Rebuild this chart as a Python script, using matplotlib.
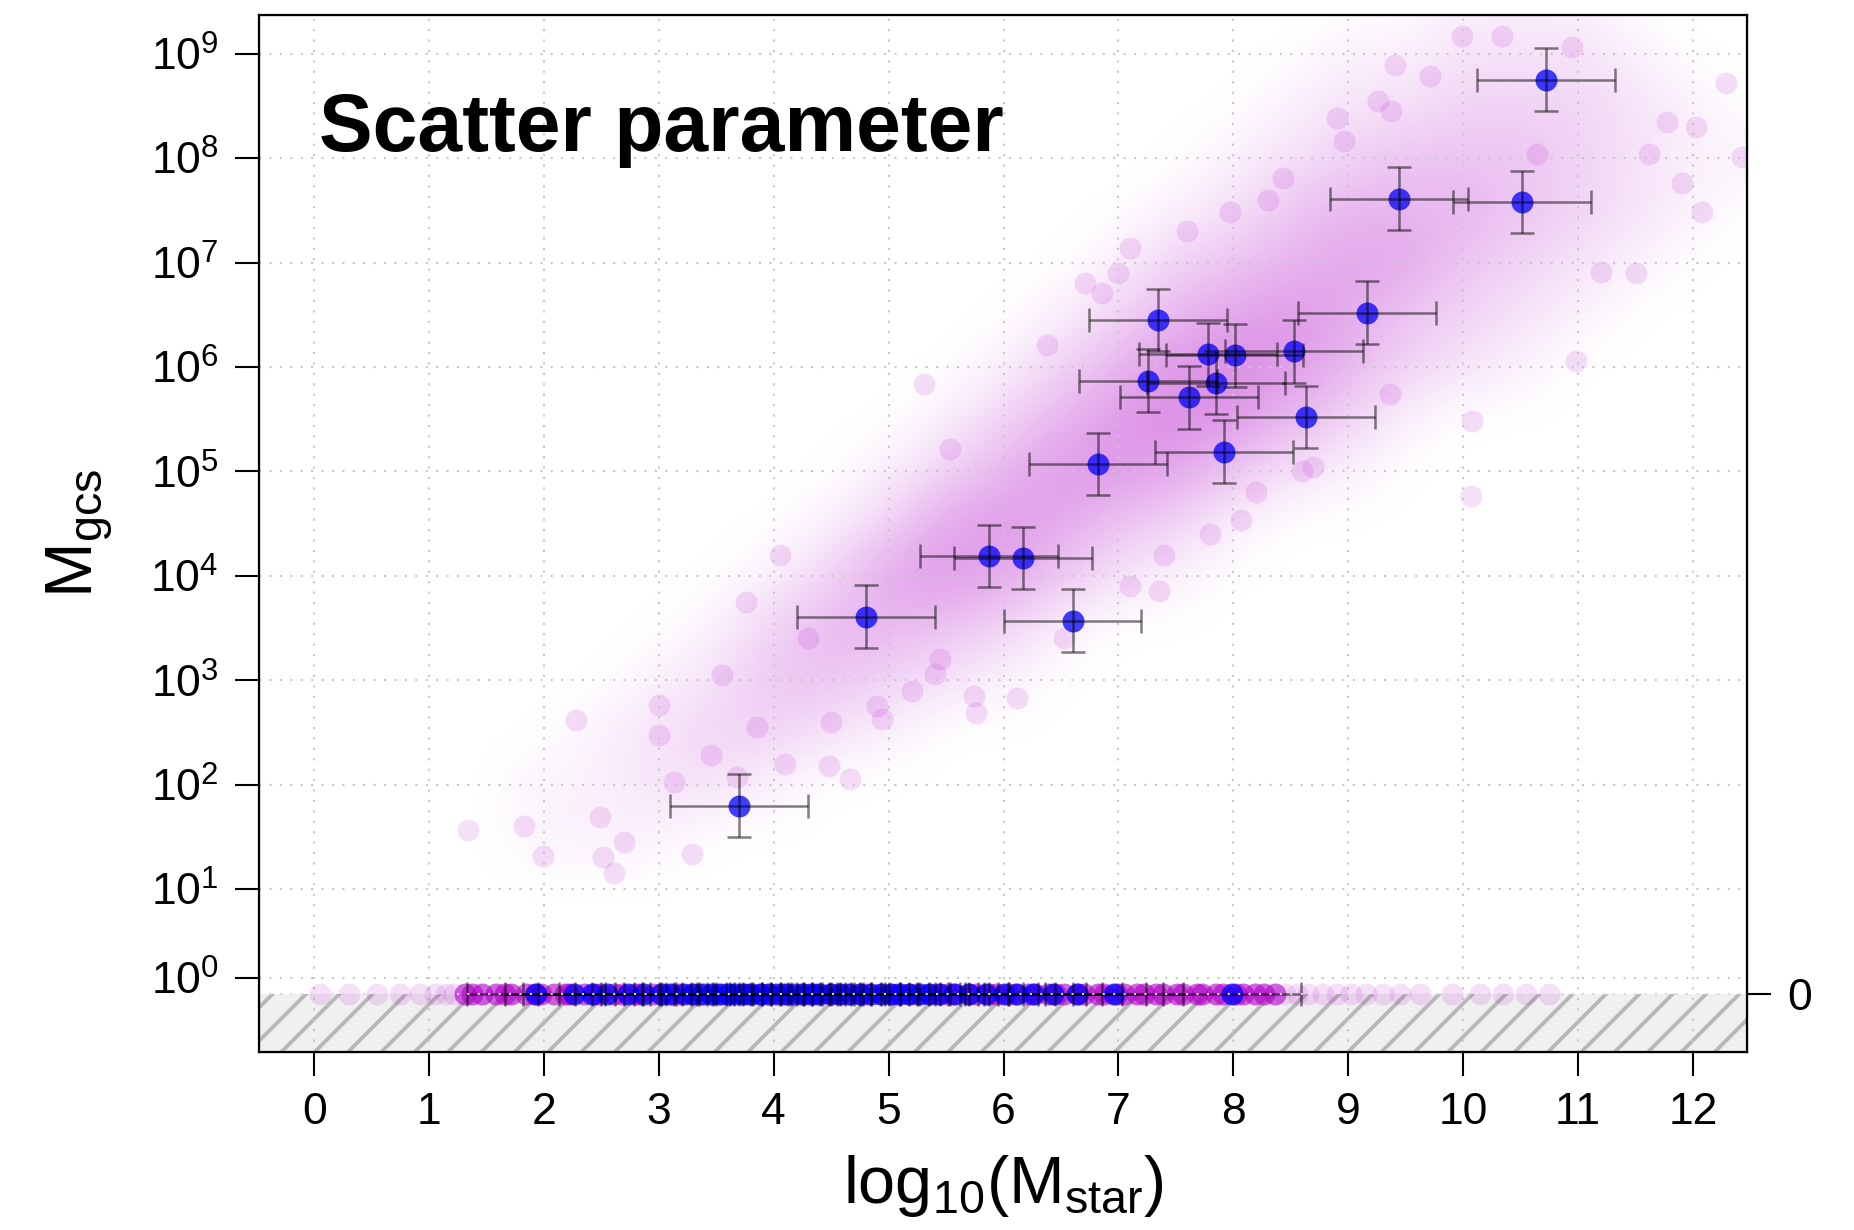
import numpy as np
import matplotlib
matplotlib.use("Agg")
import matplotlib.pyplot as plt
from matplotlib.patches import Rectangle

plt.rcParams['font.family'] = ['Liberation Sans', 'DejaVu Sans']
plt.rcParams['mathtext.fontset'] = 'custom'
plt.rcParams['mathtext.rm'] = 'Liberation Sans'
plt.rcParams['mathtext.it'] = 'Liberation Sans:italic'
plt.rcParams['mathtext.bf'] = 'Liberation Sans:bold'
plt.rcParams['hatch.color'] = '#b8b8b8'
plt.rcParams['hatch.linewidth'] = 2.8

# galaxies with detected GC systems (log10 M_star, log10 M_gcs)
obs_logmstar = [10.72, 9.44, 10.51, 7.34, 9.16, 7.78, 8.01, 8.53, 7.26, 7.85,
                7.61, 8.63, 6.82, 7.92, 5.87, 6.17, 4.80, 6.60, 3.70]
obs_logmgcs = [8.75, 7.61, 7.58, 6.45, 6.52, 6.12, 6.11, 6.15, 5.87, 5.85,
               5.71, 5.52, 5.07, 5.19, 4.19, 4.17, 3.61, 3.57, 1.80]
obs_xerr = 0.6
obs_yerr = 0.3

# galaxies with no GCs (M_gcs = 0)
zero_logmstar = [1.93, 2.26, 2.42, 2.55, 2.73, 2.87, 3.02, 3.10, 3.22, 3.30,
                 3.38, 3.45, 3.52, 3.60, 3.66, 3.73, 3.80, 3.88, 3.95, 4.02,
                 4.10, 4.18, 4.25, 4.33, 4.40, 4.50, 4.58, 4.66, 4.75, 4.85,
                 4.93, 5.02, 5.10, 5.18, 5.27, 5.35, 5.45, 5.57, 5.70, 5.85,
                 6.00, 6.12, 6.26, 6.43, 6.64, 6.96, 7.99]

# posterior predictive cloud: density read on a grid
# columns: log10 M_star = 1.0 .. 12.5 (step 0.5), rows: log10 M_gcs = 9.5 .. 0.5
cloud_x0, cloud_dx = 1.0, 0.5
cloud_v_top, cloud_dv = 9.5, 0.5
cloud_rows = [
    "000000000000000000111000",
    "000000000000000011222100",
    "000000000000000122333210",
    "000000000000001234443211",
    "000000000000012455543210",
    "000000000000134566432100",
    "000000000001356764321000",
    "000000000013578753210000",
    "000000000135787531000000",
    "000000001357764210000000",
    "000000013676431000000000",
    "000000136764210000000000",
    "000001355431000000000000",
    "000012443210000000000000",
    "000123321000000000000000",
    "001122100000000000000000",
    "001110000000000000000000",
    "000000000000000000000000",
    "000000000000000000000000",
]
# individual predictive draws visible around the dense core
cloud_pts_x = [1.34, 1.83, 1.99, 2.28, 2.49, 2.51, 2.61, 2.70, 3.00, 3.00,
               3.13, 3.29, 3.45, 3.68, 3.76, 3.55, 3.85, 4.05, 4.66, 4.30,
               4.10, 4.50, 4.90, 5.20, 5.76, 5.74, 5.45, 5.31, 5.53, 6.38,
               6.71, 6.86, 7.10, 7.40, 7.80, 8.20, 8.60, 9.36, 10.07, 10.08,
               10.98, 11.20, 11.50, 11.90, 11.77, 12.03, 12.43, 9.99, 9.71, 9.37,
               8.96, 8.30, 7.60, 7.00, 7.10, 7.97, 8.43, 8.90, 9.26, 9.41,
               8.69, 8.07, 7.35, 6.53, 6.12, 5.40, 4.94, 4.48, 11.62, 12.08,
               12.29, 10.64, 10.95, 10.34]
cloud_pts_v = [1.57, 1.60, 1.32, 2.62, 1.69, 1.31, 1.15, 1.45, 2.76, 2.48,
               2.03, 1.34, 2.28, 2.07, 3.75, 3.05, 2.55, 4.20, 2.05, 3.40,
               2.20, 2.60, 2.75, 2.90, 2.69, 2.85, 3.20, 5.84, 5.21, 6.21,
               6.80, 6.71, 3.90, 4.20, 4.40, 4.80, 5.00, 5.74, 4.76, 5.48,
               6.06, 6.91, 6.90, 7.76, 8.35, 8.30, 8.01, 9.17, 8.79, 8.45,
               8.16, 7.60, 7.30, 6.90, 7.14, 7.48, 7.81, 8.38, 8.55, 8.89,
               5.04, 4.53, 3.85, 3.40, 2.83, 3.06, 2.63, 2.18, 8.04, 7.48,
               8.72, 8.04, 9.06, 9.17]
# predictive draws at M_gcs = 0
zero_dense_x = [1.31, 1.37, 1.46, 1.58, 1.66, 1.71, 1.84, 1.92, 1.97, 2.09,
                2.18, 2.22, 2.35, 2.44, 2.49, 2.61, 2.68, 2.79, 2.83, 2.95,
                3.04, 3.12, 3.18, 3.29, 3.35, 3.47, 3.55, 3.61, 3.72, 3.78,
                3.89, 3.97, 4.06, 4.12, 4.24, 4.31, 4.37, 4.49, 4.58, 4.64,
                4.75, 4.81, 4.93, 5.01, 5.07, 5.18, 5.24, 5.36, 5.43, 5.52,
                5.58, 5.69, 5.76, 5.87, 5.93, 6.04, 6.10, 6.21, 6.27, 6.39,
                6.46, 6.53, 6.65, 6.70, 6.82, 6.87, 6.99, 7.05, 7.16, 7.22,
                7.33, 7.39, 7.51, 7.56, 7.68, 7.73, 7.85, 7.91, 8.02, 8.08,
                8.19, 8.27, 8.36]
zero_faint_x = [0.05, 0.30, 0.55, 0.75, 0.92, 1.05, 1.15, 1.22, 8.45, 8.55,
                8.65, 8.78, 8.90, 9.02, 9.15, 9.30, 9.45, 9.62, 9.90, 10.15,
                10.35, 10.55, 10.75]

# y axis: tick positions (log10 scale, 10^0 squeezed just above the zero strip)
ytick_pos = [0.15, 1, 2, 3, 4, 5, 6, 7, 8, 9]
ytick_lab = [r'$10^{%d}$' % k for k in range(10)]
xticks = list(range(0, 13))
zero_level = 0.0
xlim = (-0.48, 12.47)
ylim = (-0.56, 9.37)

purple = '#b000c8'
msize = 250

fig = plt.figure(figsize=(18.54, 12.30), dpi=100)
ax = fig.add_axes([0.1397, 0.1447, 0.8026, 0.8431])

# hatched "zero" region
ax.add_patch(Rectangle((xlim[0], ylim[0]), xlim[1] - xlim[0], zero_level - ylim[0],
                       facecolor='#f0f0f0', edgecolor='#b8b8b8', hatch='/',
                       linewidth=0, zorder=0.5))

# cloud density
dens = np.array([[int(c) for c in row] for row in cloud_rows], float) / 9.0
rgba = np.zeros(dens.shape + (4,))
rgba[..., 0] = 0.69
rgba[..., 1] = 0.0
rgba[..., 2] = 0.78
rgba[..., 3] = dens * 0.52
ncol = dens.shape[1]
nrow = dens.shape[0]
ext = (cloud_x0 - cloud_dx / 2, cloud_x0 + cloud_dx * (ncol - 0.5),
       cloud_v_top - cloud_dv * (nrow - 0.5), cloud_v_top + cloud_dv / 2)
ax.imshow(rgba, extent=ext, origin='upper', aspect='auto',
          interpolation='bicubic', zorder=1)
ax.scatter(cloud_pts_x, cloud_pts_v, s=msize, color=purple, alpha=0.12,
           linewidths=0, zorder=1.2)

# grid
for x in xticks:
    ax.axvline(x, color='#c8c8c8', ls=(0, (1, 4)), lw=1.5, zorder=1.5)
for y in ytick_pos:
    ax.axhline(y, color='#c8c8c8', ls=(0, (1, 4)), lw=1.5, zorder=1.5)

# zero strip
ax.scatter(zero_faint_x, [zero_level] * len(zero_faint_x), s=msize, color=purple,
           alpha=0.12, linewidths=0, zorder=2)
ax.scatter(zero_dense_x, [zero_level] * len(zero_dense_x), s=msize, color=purple,
           alpha=0.6, linewidths=0, zorder=2)
ax.scatter(zero_logmstar, [zero_level] * len(zero_logmstar), s=msize, color='blue',
           alpha=0.75, linewidths=0, zorder=3)
ax.errorbar(zero_logmstar, [zero_level] * len(zero_logmstar), xerr=obs_xerr,
            fmt='none', ecolor=(0, 0, 0, 0.5), elinewidth=1.8, capsize=8.5,
            capthick=1.8, zorder=3.5)
ax.axhline(zero_level, color='#d8d8d8', ls=(0, (1, 4)), lw=1.5, zorder=5)

# observed galaxies
ax.scatter(obs_logmstar, obs_logmgcs, s=msize, color='blue', alpha=0.75,
           linewidths=0, zorder=3)
ax.errorbar(obs_logmstar, obs_logmgcs, xerr=obs_xerr, yerr=obs_yerr,
            fmt='none', ecolor=(0, 0, 0, 0.5), elinewidth=1.8, capsize=8.5,
            capthick=1.8, zorder=3.5)

ax.set_xlim(xlim)
ax.set_ylim(ylim)
ax.set_xticks(xticks)
ax.set_yticks(ytick_pos)
ax.set_yticklabels(ytick_lab)
ax.tick_params(direction='out', length=17, width=1.5, labelsize=32, pad=12)
for sp in ax.spines.values():
    sp.set_linewidth(1.6)

ax2 = ax.twinx()
ax2.set_ylim(ylim)
ax2.set_yticks([zero_level])
ax2.set_yticklabels(['0'])
ax2.tick_params(direction='out', length=17, width=1.5, labelsize=32, pad=12)

ax.text(0.040, 0.869, 'Scatter parameter', transform=ax.transAxes,
        fontsize=58, fontweight='bold', va='baseline', ha='left', zorder=6)

ax.set_xlabel(r'$\mathregular{log_{10}(M_{star})}$', fontsize=48)
ax.set_ylabel(r'$\mathregular{M_{gcs}}$', fontsize=48)
ax.xaxis.set_label_coords(0.5, -0.097)
ax.yaxis.set_label_coords(-0.097, 0.5)

fig.savefig('out.png', dpi=100)
